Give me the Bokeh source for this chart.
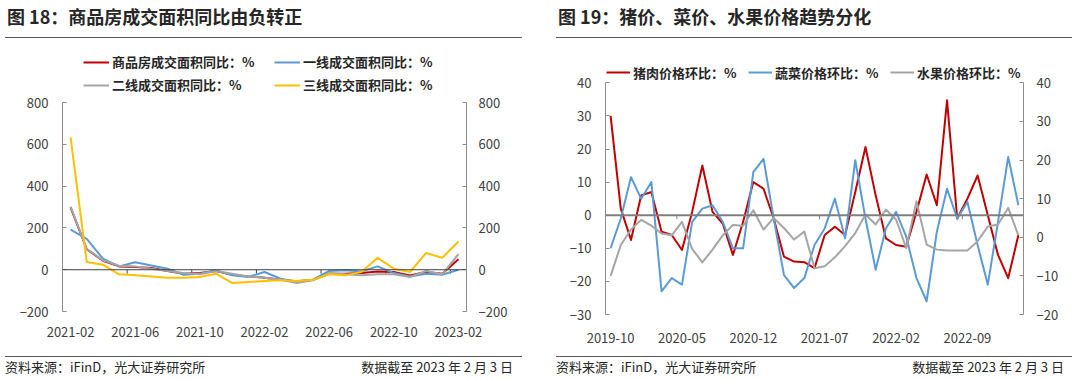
import pandas as pd
from bokeh.plotting import figure
from bokeh.models import Range1d, LinearAxis, FixedTicker, Legend, LegendItem, Span, Div
from bokeh.layouts import row, column
from bokeh.embed import file_html
from bokeh.resources import INLINE

FONT = "Noto Sans CJK SC"

# ---------------- Figure 18 data (monthly, YoY %) ----------------
months18 = [d.strftime("%Y-%m") for d in pd.date_range("2021-02-01", periods=25, freq="MS")]
area_total = [298, 98, 43, 16, 13, 8, -6, -19, -16, -6, -24, -32, -38, -48, -55,
              -48, -19, -19, -16, -8, -11, -27, -11, -19, 50]
area_tier1 = [192, 148, 53, 16, 36, 20, 5, -24, -19, -3, -27, -35, -11, -43, -59,
              -48, -6, -3, -8, 16, -16, -32, -19, -24, 0]
area_tier2 = [302, 100, 45, 19, 16, 5, -6, -16, -22, -6, -19, -32, -38, -48, -64,
              -51, -16, -22, -27, -22, -22, -35, -6, -22, 75]
area_tier3 = [633, 37, 24, -22, -27, -32, -38, -38, -35, -19, -64, -59, -54, -51, -54,
              -48, -22, -27, -11, 57, 5, -11, 80, 57, 135]
names18 = ["商品房成交面积同比：%", "一线成交面积同比：%", "二线成交面积同比：%", "三线成交面积同比：%"]
colors18 = ["#C00000", "#5B9BD5", "#A5A5A5", "#FFC000"]
yticks18 = [-200, 0, 200, 400, 600, 800]

# ---------------- Figure 19 data (monthly, MoM %) ----------------
months19 = [d.strftime("%Y-%m") for d in pd.date_range("2019-10-01", periods=41, freq="MS")]
pork = [30, 2, -7.5, 6, 7, -5, -6, -10.5, 1, 15, 1, -2.5, -12, -2, 10, 8, -1, -12.5, -14, -14.2,
        -16, -6, -3.5, -6, 7, 20.6, 6, -7, -9, -9.5, 1, 12.3, 3, 34.7, -1, 5, 12, 0, -12, -19, -6]
veg = [-10, -1, 11.5, 5, 10, -23, -19, -21, -2, 2, 3, -2, -10, -10, 13, 17, -1, -18, -22, -19,
       -9, -4, 5, -7, 16.6, -1, -16.5, -4, 1, -6.5, -19, -26, -5, 8, -1, 4, -9, -21, -2, 17.6, 3]
fruit = [-10, -2, 2, 4.5, 3, 1, 0.5, 4, -3, -6.5, -3.2, 0.5, 3.2, 3, 7, 2, 5, 2.4, -0.6, 1.5,
         -8, -7.5, -5.2, -2.3, 1.1, 5.9, 3.3, 7.2, 4.6, -2.8, 9.3, -1.9, -3.2, -3.4, -3.4, -3.4,
         -1, 2.8, 3.3, 7.6, 0.5]
names19 = ["猪肉价格环比：%", "蔬菜价格环比：%", "水果价格环比：%"]
colors19 = ["#C00000", "#5B9BD5", "#A5A5A5"]
yticks19_left = [-30, -20, -10, 0, 10, 20, 30, 40]
yticks19_right = [-20, -10, 0, 10, 20, 30, 40]

titles = ["图 18：商品房成交面积同比由负转正", "图 19：猪价、菜价、水果价格趋势分化"]
source_text = "资料来源：iFinD，光大证券研究所"
date_text = "数据截至 2023 年 2 月 3 日"

AX_COLOR = "#8C8C8C"
LBL_COLOR = "#404040"
PANEL_W = 540
FIG_H = 318


def style_y(ax, ticks, standoff):
    ax.ticker = FixedTicker(ticks=ticks)
    ax.bounds = (ticks[0], ticks[-1])
    ax.major_tick_in = 4
    ax.major_tick_out = 0
    ax.minor_tick_line_color = None
    ax.axis_line_color = AX_COLOR
    ax.major_tick_line_color = AX_COLOR
    ax.major_label_text_font = FONT
    ax.major_label_text_font_size = "13px"
    ax.major_label_text_color = LBL_COLOR
    ax.major_label_standoff = standoff


def style_x(ax, months, step, standoff):
    idx = list(range(0, len(months), step))
    ax.ticker = FixedTicker(ticks=idx)
    ax.major_label_overrides = {i: months[i] for i in idx}
    ax.axis_line_color = None
    ax.major_tick_line_color = None
    ax.minor_tick_line_color = None
    ax.major_label_text_font = FONT
    ax.major_label_text_font_size = "13px"
    ax.major_label_text_color = LBL_COLOR
    ax.major_label_standoff = standoff


def make_legend(items, ncols, glyph_w, label_width, spacing, loc):
    lg = Legend(items=items, location=loc, orientation="horizontal", ncols=ncols)
    lg.label_text_font = FONT
    lg.label_text_font_size = "13px"
    lg.label_text_font_style = "bold"
    lg.label_text_color = "#262626"
    lg.glyph_width = glyph_w
    lg.glyph_height = 20
    lg.label_height = 20
    lg.label_width = label_width
    lg.label_standoff = 3
    lg.spacing = spacing
    lg.padding = 0
    lg.margin = 0
    lg.background_fill_alpha = 0
    lg.border_line_color = None
    return lg


def title_div(text, offset, inner_w):
    html = (f'<div style="margin-left:{offset}px;width:{inner_w}px;height:38px;box-sizing:border-box;'
            f'padding-top:6px;padding-left:2px;border-bottom:1px solid #595959;font-family:\'{FONT}\';'
            f'font-size:18px;font-weight:bold;line-height:21px;color:#262626;white-space:nowrap;">{text}</div>')
    return Div(text=html, width=PANEL_W, height=38, margin=0)


def foot_div(offset, inner_w, pad_r):
    html = (f'<div style="margin-left:{offset}px;width:{inner_w}px;height:20px;box-sizing:border-box;'
            f'border-top:1px solid #595959;padding-top:1px;padding-right:{pad_r}px;display:flex;'
            f'justify-content:space-between;font-family:\'{FONT}\';font-size:13px;line-height:18px;'
            f'color:#262626;white-space:nowrap;"><span>{source_text}</span><span>{date_text}</span></div>')
    return Div(text=html, width=PANEL_W, height=20, margin=0)


# ---------------- Chart 18 ----------------
L_FRAME_H = FIG_H - 2 - 45
L_PX_PER_UNIT = 208.9 / 1000.0
l_top = -200 + L_FRAME_H / L_PX_PER_UNIT

p1 = figure(width=PANEL_W, height=FIG_H, x_range=Range1d(-0.5, len(months18) - 0.5),
            y_range=Range1d(-200, l_top), output_backend="svg", toolbar_location=None,
            min_border_left=62, min_border_right=74, min_border_top=2, min_border_bottom=45)
p1.xgrid.visible = False
p1.ygrid.visible = False
p1.outline_line_color = None
style_y(p1.yaxis[0], yticks18, 14)
style_x(p1.xaxis[0], months18, 4, 9)
ax_r = LinearAxis()
style_y(ax_r, yticks18, 12)
p1.add_layout(ax_r, "right")

p1.add_layout(Span(location=0, dimension="width", line_color="#404040", line_width=1))
x18 = list(range(len(months18)))
tick18 = [i - 0.5 for i in range(4, len(months18) + 1, 4)]
p1.segment(x0=tick18, y0=[0] * len(tick18), x1=tick18, y1=[-4 / L_PX_PER_UNIT] * len(tick18),
           line_color="#404040", line_width=1)

items18 = []
for vals, nm, col in zip([area_total, area_tier1, area_tier2, area_tier3], names18, colors18):
    r = p1.line(x18, vals, line_color=col, line_width=2, line_join="round")
    items18.append(LegendItem(label=nm, renderers=[r]))
p1.add_layout(make_legend(items18, 2, 26, 159, 3, (21, 216.5)))

# ---------------- Chart 19 ----------------
R_FRAME_H = FIG_H - 2 - 42
R_PX_L = (314 - 82.3) / 70.0
R_PX_R = (314 - 82.3) / 60.0
r_top_l = -30 + R_FRAME_H / R_PX_L
r_top_r = -20 + R_FRAME_H / R_PX_R

p2 = figure(width=PANEL_W, height=FIG_H, x_range=Range1d(-0.5, len(months19) - 0.5),
            y_range=Range1d(-30, r_top_l), output_backend="svg", toolbar_location=None,
            min_border_left=65, min_border_right=57, min_border_top=2, min_border_bottom=42)
p2.extra_y_ranges = {"y2": Range1d(-20, r_top_r)}
p2.xgrid.visible = False
p2.ygrid.visible = False
p2.outline_line_color = None
style_y(p2.yaxis[0], yticks19_left, 14)
style_x(p2.xaxis[0], months19, 7, 12)
ax_r2 = LinearAxis(y_range_name="y2")
style_y(ax_r2, yticks19_right, 13)
p2.add_layout(ax_r2, "right")

p2.add_layout(Span(location=0, dimension="width", line_color="#7F7F7F", line_width=2))
x19 = list(range(len(months19)))
tick19 = [i - 0.5 for i in range(7, len(months19), 14)]
p2.segment(x0=tick19, y0=[0] * len(tick19), x1=tick19, y1=[-4 / R_PX_L] * len(tick19),
           line_color="#7F7F7F", line_width=1)

items19 = []
r = p2.line(x19, pork, line_color=colors19[0], line_width=2, line_join="round")
items19.append(LegendItem(label=names19[0], renderers=[r]))
r = p2.line(x19, veg, line_color=colors19[1], line_width=2, line_join="round")
items19.append(LegendItem(label=names19[1], renderers=[r]))
r = p2.line(x19, fruit, line_color=colors19[2], line_width=2, line_join="round", y_range_name="y2")
items19.append(LegendItem(label=names19[2], renderers=[r]))
p2.add_layout(make_legend(items19, 3, 24, 104, 11, (1, 232)))

left = column(title_div(titles[0], 5, 517), p1, foot_div(5, 517, 9), spacing=0)
right = column(title_div(titles[1], 16, 516), p2, foot_div(16, 516, 8), spacing=0)
layout = row(left, right, spacing=0)

open("out.html", "w").write(file_html(layout, INLINE))
